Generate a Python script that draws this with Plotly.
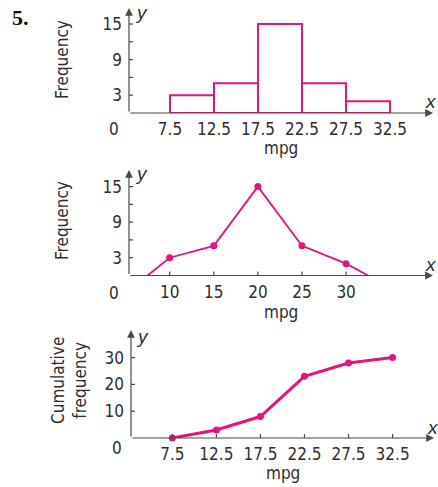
import plotly.graph_objects as go

W, H = 438, 487
PINK = "#E6127F"
AX = "#4a4a4a"
TXT = "#2e2e2e"
FONT = "Liberation Sans Narrow, Arial Narrow, DejaVu Sans Condensed, sans-serif"

# ---- data ----
class_lower = [7.5, 12.5, 17.5, 22.5, 27.5]
class_upper = [12.5, 17.5, 22.5, 27.5, 32.5]
frequency = [3, 5, 15, 5, 2]
boundaries = [7.5, 12.5, 17.5, 22.5, 27.5, 32.5]
boundary_labels = ["7.5", "12.5", "17.5", "22.5", "27.5", "32.5"]
midpoints = [10, 15, 20, 25, 30]
midpoint_labels = ["10", "15", "20", "25", "30"]
poly_x = [7.5, 10, 15, 20, 25, 30, 32.5]
poly_y = [0, 3, 5, 15, 5, 2, 0]
cum_freq = [0, 3, 8, 23, 28, 30]
freq_ticks = [3, 6, 9, 12, 15]
freq_ticktext = ["3", "", "9", "", "15"]
cum_ticks = [10, 20, 30]
cum_ticktext = ["10", "20", "30"]


def px(x):
    return x / W


def py(y):
    return 1 - y / H


# panel geometry
panels = [
    dict(xl=129, xr=433, xr0=2.84, xr1=37.38, yt=8, yb=113, yr1=17.7),
    dict(xl=129, xr=433, xr0=5.39, xr1=39.85, yt=170, yb=275.5, yr1=17.8),
    dict(xl=131, xr=434, xr0=2.81, xr1=37.2, yt=330, yb=438, yr1=40.3),
]

fig = go.Figure()

# histogram
bar_mid = [(a + b) / 2 for a, b in zip(class_lower, class_upper)]
bar_w = [b - a for a, b in zip(class_lower, class_upper)]
fig.add_trace(go.Bar(
    x=bar_mid, y=frequency, width=bar_w,
    marker=dict(color="white", line=dict(color=PINK, width=2)),
    xaxis="x", yaxis="y", showlegend=False, hoverinfo="skip",
))

# frequency polygon
fig.add_trace(go.Scatter(
    x=poly_x, y=poly_y, mode="lines",
    line=dict(color=PINK, width=1.8),
    xaxis="x2", yaxis="y2", showlegend=False, cliponaxis=False,
))
fig.add_trace(go.Scatter(
    x=midpoints, y=frequency, mode="markers",
    marker=dict(color=PINK, size=7),
    xaxis="x2", yaxis="y2", showlegend=False, cliponaxis=False,
))

# ogive
fig.add_trace(go.Scatter(
    x=boundaries, y=cum_freq, mode="lines+markers",
    line=dict(color=PINK, width=3),
    marker=dict(color=PINK, size=7),
    xaxis="x3", yaxis="y3", showlegend=False, cliponaxis=False,
))

tickfont = dict(family=FONT, size=17, color=TXT)
xticks = [(boundaries, boundary_labels), (midpoints, midpoint_labels), (boundaries, boundary_labels)]
yticks = [(freq_ticks, freq_ticktext), (freq_ticks, freq_ticktext), (cum_ticks, cum_ticktext)]

layout = {}
shapes = []
annotations = []
for i, p in enumerate(panels):
    s = "" if i == 0 else str(i + 1)
    layout["xaxis" + s] = dict(
        domain=[px(p["xl"]), px(p["xr"])], range=[p["xr0"], p["xr1"]],
        anchor="y" + s, showline=False, showgrid=False, zeroline=False,
        ticks="", tickvals=xticks[i][0], ticktext=xticks[i][1],
        tickfont=tickfont, ticklabelstandoff=4, fixedrange=True,
    )
    layout["yaxis" + s] = dict(
        domain=[py(p["yb"]), py(p["yt"])], range=[0, p["yr1"]],
        anchor="x" + s, showline=False, showgrid=False, zeroline=False,
        ticks="", tickvals=yticks[i][0], ticktext=yticks[i][1],
        tickfont=tickfont, ticklabelstandoff=6, fixedrange=True,
    )
    xr = "x" + s
    yr = "y" + s
    # axes with arrowheads
    annotations.append(dict(
        x=p["xr1"], y=0, ax=p["xr0"], ay=0, xref=xr, yref=yr, axref=xr, ayref=yr,
        text="", showarrow=True, arrowhead=2, arrowsize=1.3, arrowwidth=1.2,
        arrowcolor=AX, standoff=0, startstandoff=0,
    ))
    annotations.append(dict(
        x=p["xr0"], y=p["yr1"], ax=p["xr0"], ay=0, xref=xr, yref=yr, axref=xr, ayref=yr,
        text="", showarrow=True, arrowhead=2, arrowsize=1.3, arrowwidth=1.2,
        arrowcolor=AX, standoff=0, startstandoff=0,
    ))
    # y ticks crossing the axis
    for v in yticks[i][0]:
        shapes.append(dict(
            type="line", xref=xr, yref=yr, xsizemode="pixel", xanchor=p["xr0"],
            x0=-4, x1=4, y0=v, y1=v, line=dict(color=AX, width=1.2),
        ))
    # x ticks
    for v in xticks[i][0]:
        if i == 0:
            shapes.append(dict(
                type="line", xref=xr, yref=yr, ysizemode="pixel", yanchor=0,
                x0=v, x1=v, y0=-4, y1=0, line=dict(color=PINK, width=2),
            ))
        else:
            shapes.append(dict(
                type="line", xref=xr, yref=yr, ysizemode="pixel", yanchor=0,
                x0=v, x1=v, y0=-4, y1=4, line=dict(color=AX, width=1.2),
            ))

lab = dict(family=FONT, size=17, color=TXT)
ital = dict(family="Liberation Sans, Arial, sans-serif", size=19, color=TXT)


def note(text, x, y, font, **kw):
    annotations.append(dict(text=text, x=px(x), y=py(y), xref="paper", yref="paper",
                            showarrow=False, font=font, xanchor="center", yanchor="middle", **kw))


note("<b>5.</b>", 20, 18, dict(family="Liberation Serif, Times New Roman, serif", size=22, color="#111"))
# origin zeros
note("0", 114, 129, lab)
note("0", 114, 293, lab)
note("0", 117, 448, lab)
# mpg titles
note("mpg", 281, 148, lab)
note("mpg", 281, 312, lab)
note("mpg", 283, 473, lab)
# y titles
note("Frequency", 62, 60, lab, textangle=-90)
note("Frequency", 62, 221, lab, textangle=-90)
note("Cumulative<br>frequency", 69, 381, lab, textangle=-90)
# axis letters
note("<i>x</i>", 431, 101, ital)
note("<i>x</i>", 431, 264, ital)
note("<i>x</i>", 433, 427, ital)
note("<i>y</i>", 141, 12, ital)
note("<i>y</i>", 141, 173, ital)
note("<i>y</i>", 142, 336, ital)

fig.update_layout(
    width=W, height=H, margin=dict(l=0, r=0, t=0, b=0),
    paper_bgcolor="white", plot_bgcolor="rgba(0,0,0,0)",
    shapes=shapes, annotations=annotations, hovermode=False, **layout,
)

fig.write_html("out.html", config={"displayModeBar": False, "staticPlot": True},
               post_script="document.body.style.margin='0';document.body.style.padding='0';")
